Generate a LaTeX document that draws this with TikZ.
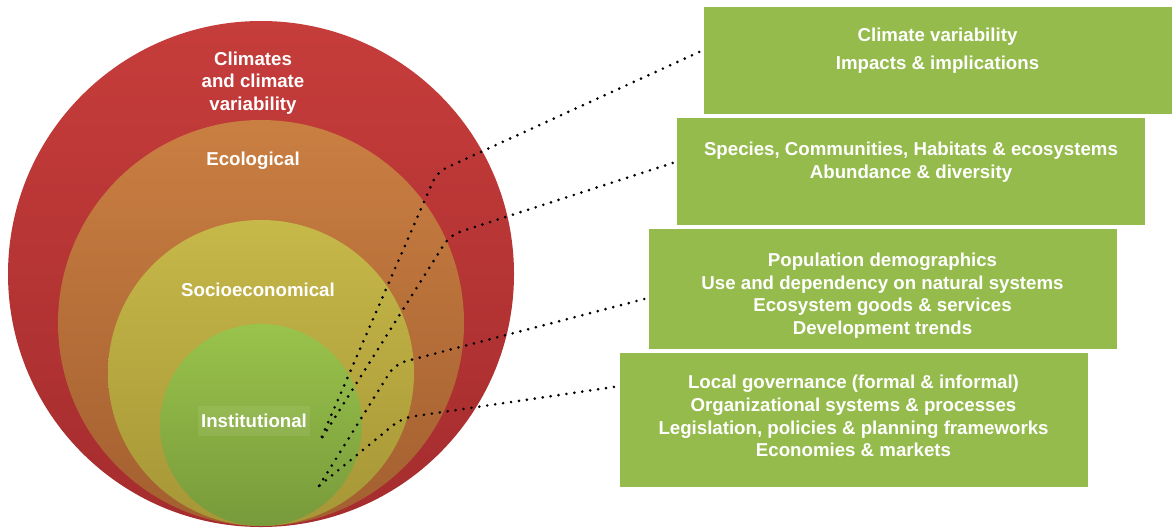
\documentclass[tikz,border=0pt]{standalone}
\usepackage{fontspec}
\setmainfont{Liberation Sans}
\definecolor{climred}{HTML}{C63D3B}
\definecolor{climreddk}{HTML}{A52C2E}
\definecolor{ecoorange}{HTML}{CA7F42}
\definecolor{ecoorangedk}{HTML}{A35F30}
\definecolor{socyellow}{HTML}{C6B849}
\definecolor{socyellowdk}{HTML}{A69636}
\definecolor{instgreen}{HTML}{99C34B}
\definecolor{instgreendk}{HTML}{789A3B}
\definecolor{boxgreen}{HTML}{95BB4C}
\tikzset{
	ring label/.style={text=white,font=\bfseries\fontsize{14}{17}\selectfont,align=center,inner sep=2pt},
	box/.style={fill=boxgreen,minimum width=351pt,inner sep=0pt},
	box text/.style={text=white,font=\bfseries\fontsize{14}{17}\selectfont,align=center},
	link/.style={line width=2.2pt,dash pattern=on 0pt off 6pt,line cap=round,rounded corners=8pt}
}
\begin{document}
\begin{tikzpicture}[x=0.75pt,y=-0.75pt]
			\useasboundingbox (0,0) rectangle (1173,529);
			\shade[top color=climred,bottom color=climreddk] (261,274) circle[radius=189.75pt];
			\shade[top color=ecoorange,bottom color=ecoorangedk] (261,323) circle[radius=152.25pt];
			\shade[top color=socyellow,bottom color=socyellowdk] (261,373) circle[radius=114.75pt];
			\shade[top color=instgreen,bottom color=instgreendk] (261,425) circle[radius=75.75pt];
			\node[ring label] (clim) at (253,83) {Climates\\and climate\\variability};
			\node[ring label] (eco) at (253,160.5) {Ecological};
			\node[ring label] (soc) at (258,289.5) {Socioeconomical};
			\node[ring label,fill=white,fill opacity=0.08,text opacity=1,minimum height=22pt] (inst) at (254,421) {Institutional};
			\node[box,minimum height=80pt] (box1) at (937.5,60.5) {};
			\node[box,minimum height=80pt] (box2) at (911,171.5) {};
			\node[box,minimum height=90pt] (box3) at (882.5,289) {};
			\node[box,minimum height=100.5pt] (box4) at (853.5,420) {};
			\node[box text] (txt1) at ([yshift=7pt]box1.center) {Climate variability\\[4pt]Impacts \& implications};
			\node[box text] (txt2) at ([yshift=6.8pt]box2.center) {Species, Communities, Habitats \& ecosystems\\Abundance \& diversity};
			\node[box text] (txt3) at ([yshift=-5pt]box3.center) {Population demographics\\Use and dependency on natural systems\\Ecosystem goods \& services\\Development trends};
			\node[box text] (txt4) at ([yshift=2.8pt]box4.center) {Local governance (formal \& informal)\\Organizational systems \& processes\\Legislation, policies \& planning frameworks\\Economies \& markets};
			\coordinate (bend1) at (437,172);
			\coordinate (bend2) at (450,235);
			\coordinate (bend3) at (395,364);
			\coordinate (bend4) at (402,418);
			\coordinate (tipA) at (320,441);
			\coordinate (tipB) at (319,486);
			\draw[link] ([shift={(-3pt,6.4pt)}]box1.west) -- (bend1) -- (tipA);
			\draw[link] ([shift={(-3pt,6.4pt)}]box2.west) -- (bend2) -- (tipA);
			\draw[link] ([shift={(-3pt,-7.5pt)}]box3.west) -- (bend3) -- (tipB);
			\draw[link] ([shift={(-4pt,24.8pt)}]box4.west) -- (bend4) -- (tipB);
		\end{tikzpicture}
\end{document}
